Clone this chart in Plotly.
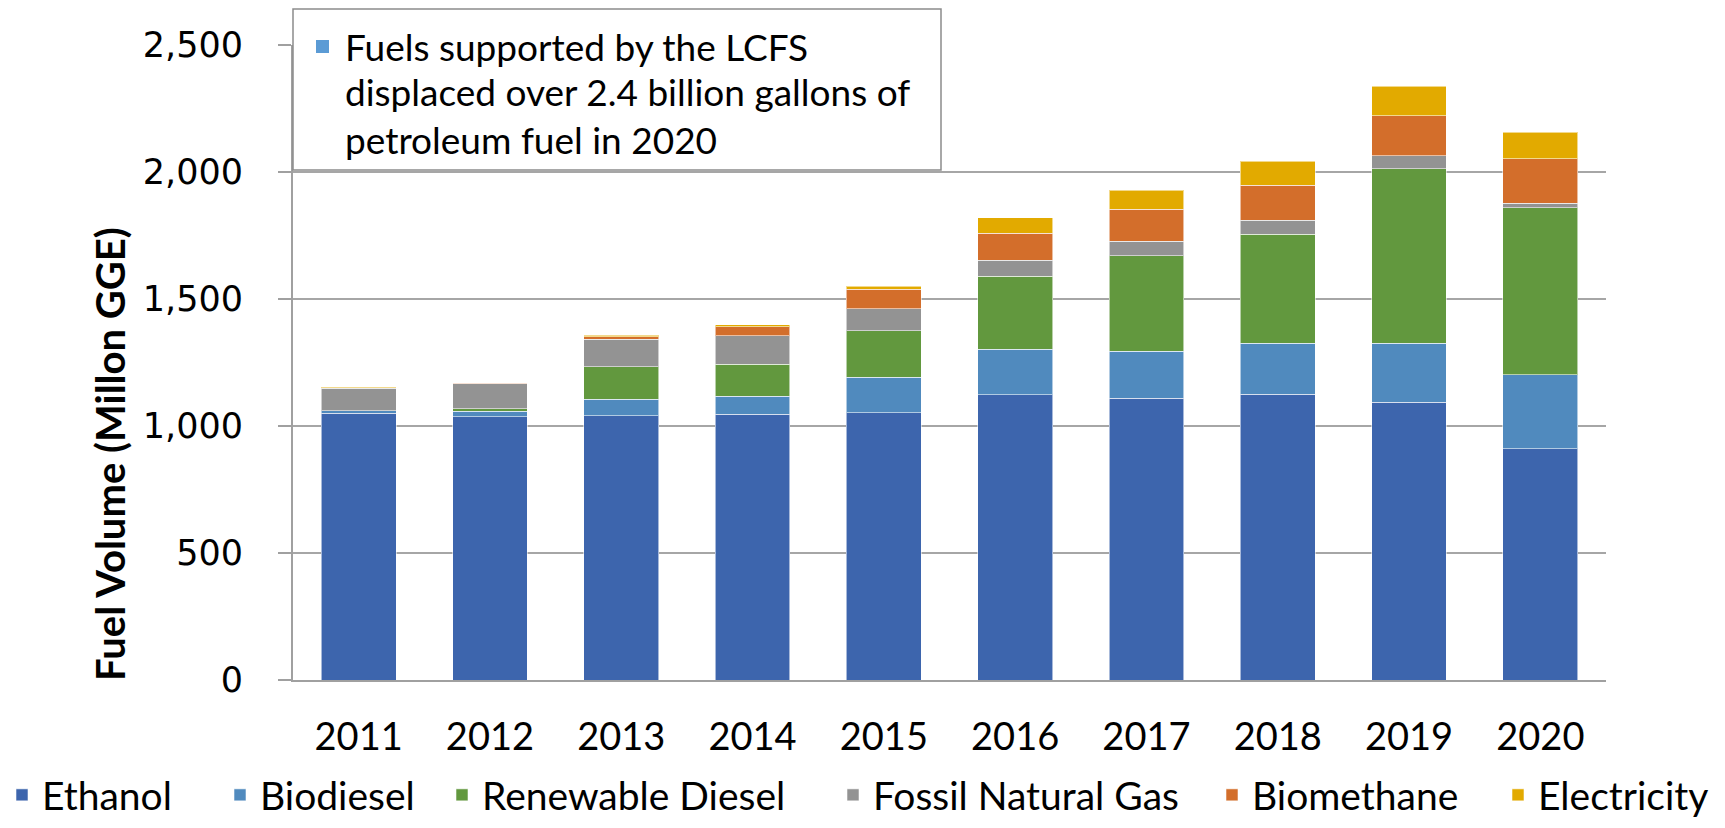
import plotly.graph_objects as go

years = ["2011", "2012", "2013", "2014", "2015", "2016", "2017", "2018", "2019", "2020"]
ethanol = [1050, 1037, 1041, 1046, 1053, 1123, 1109, 1126, 1093, 911]
biodiesel = [10, 21, 64, 71, 139, 179, 185, 199, 232, 291]
renewable_diesel = [1, 10, 129, 126, 183, 287, 377, 429, 688, 658]
fossil_natural_gas = [87, 99, 107, 113, 87, 63, 57, 57, 51, 17]
biomethane = [2, 2, 11, 34, 76, 106, 125, 136, 158, 176]
electricity = [2, 2, 6, 8, 13, 61, 75, 96, 116, 104]

series_names = ["Ethanol", "Biodiesel", "Renewable Diesel", "Fossil Natural Gas", "Biomethane", "Electricity"]
series_values = [ethanol, biodiesel, renewable_diesel, fossil_natural_gas, biomethane, electricity]
colors = ["#3D65AD", "#508ABE", "#62983E", "#939393", "#D36E2B", "#E2AA00"]

y_ticks = [0, 500, 1000, 1500, 2000, 2500]
y_ticktext = ["0", "500", "1,000", "1,500", "2,000", "2,500"]

note_lines = ["Fuels supported by the LCFS", "displaced over 2.4 billion gallons of", "petroleum fuel in 2020"]

# plot area in pixels
L, R, T, B = 293, 1606, 45, 680
W_PX, H_PX = 1725, 828
pw, ph = R - L, B - T

def px_x(p):
    return (p - L) / pw

def px_y(p):
    return (B - p) / ph

legend_square_left = [16, 234, 456, 847, 1226, 1512]

fig = go.Figure()
for i, (name, vals, col) in enumerate(zip(series_names, series_values, colors)):
    lname = "legend" if i == 0 else f"legend{i+1}"
    fig.add_trace(go.Bar(
        x=years, y=vals, name=name,
        marker=dict(color=col, line=dict(color="rgba(255,255,255,0.55)", width=1)),
        legend=lname,
    ))

layout_legends = {}
for i, sl in enumerate(legend_square_left):
    lname = "legend" if i == 0 else f"legend{i+1}"
    layout_legends[lname] = dict(
        x=px_x(sl - 14), xanchor="left",
        y=px_y(827), yanchor="bottom",
        orientation="h",
        font=dict(family="Lato", size=39, color="#000000"),
        bgcolor="rgba(0,0,0,0)", borderwidth=0,
        tracegroupgap=0,
    )

fig.update_layout(
    barmode="stack",
    bargap=0.43,
    width=W_PX, height=H_PX,
    margin=dict(l=L, r=W_PX - R, t=T, b=H_PX - B, pad=0, autoexpand=False),
    paper_bgcolor="white", plot_bgcolor="white",
    showlegend=True,
    **layout_legends,
)

fig.update_xaxes(
    type="category",
    showgrid=False,
    showline=True, linecolor="#A0A0A0", linewidth=2,
    ticks="", ticklabelstandoff=22,
    tickfont=dict(family="Lato", size=38, color="#000000"),
)
fig.update_yaxes(
    range=[0, 2500],
    tickvals=y_ticks, ticktext=y_ticktext,
    showgrid=True, gridcolor="#A6A6A6", gridwidth=1.5,
    showline=True, linecolor="#A0A0A0", linewidth=2,
    ticks="outside", ticklen=13, tickcolor="#A0A0A0", tickwidth=1.5,
    ticklabelstandoff=28,
    tickfont=dict(family="DejaVu Sans", size=35, color="#000000"),
    zeroline=False,
)

# y-axis title
fig.add_annotation(
    text="<b>Fuel Volume (Millon GGE)</b>",
    xref="paper", yref="paper",
    x=px_x(110), y=px_y(454),
    xanchor="center", yanchor="middle",
    textangle=-90, showarrow=False,
    font=dict(family="Lato", size=40, color="#000000"),
)

# note box
fig.add_shape(
    type="rect", xref="paper", yref="paper",
    x0=px_x(293), x1=px_x(941), y0=px_y(170), y1=px_y(9),
    line=dict(color="#8C8C8C", width=1.5), fillcolor="white", layer="above",
)
fig.add_shape(
    type="rect", xref="paper", yref="paper",
    x0=px_x(316), x1=px_x(329), y0=px_y(53), y1=px_y(40),
    line=dict(width=0), fillcolor="#5B9BD5", layer="above",
)
line_centers = [46, 92, 139]
for txt, cy in zip(note_lines, line_centers):
    fig.add_annotation(
        text=txt, xref="paper", yref="paper",
        x=px_x(343), y=px_y(cy), xanchor="left", yanchor="middle",
        showarrow=False,
        font=dict(family="Lato", size=37, color="#000000"),
    )

fig.write_html("out.html")
